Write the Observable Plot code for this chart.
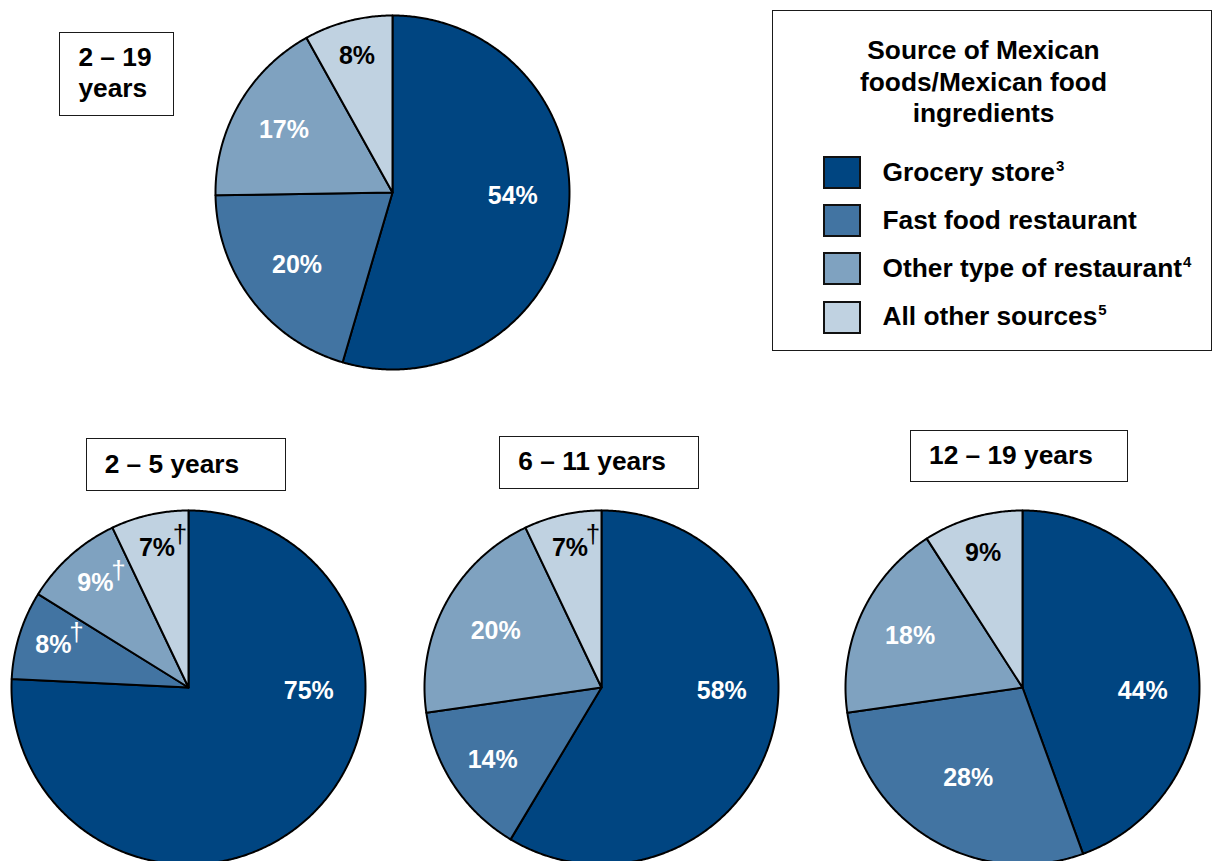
<!DOCTYPE html>
<html>
<head>
<meta charset="utf-8">
<script src="https://cdn.jsdelivr.net/npm/d3@7"></script>
<script src="https://cdn.jsdelivr.net/npm/@observablehq/plot@0.6"></script>
<style>
  html, body { margin: 0; padding: 0; background: #fff; }
  #page {
    position: relative; width: 1213px; height: 861px; overflow: hidden;
    font-family: "Liberation Sans", Arial, Helvetica, sans-serif; font-weight: bold; color: #000;
  }
  .box {
    position: absolute; box-sizing: border-box; border: 1.5px solid #1a1a1a; background: #fff;
    font-size: 26.3px; line-height: 31.3px; padding: 9.4px 0 0 18px; white-space: nowrap;
  }
  .pie { position: absolute; }
  #legend {
    position: absolute; left: 772px; top: 10px; width: 440px; height: 341px;
    box-sizing: border-box; border: 1.5px solid #1a1a1a; background: #fff;
  }
  #legend .title {
    position: absolute; left: 0; top: 24px; width: 421px; text-align: center;
    font-size: 26.3px; line-height: 31.5px;
  }
  #legend .swatch {
    position: absolute; left: 50px; width: 38px; height: 33px;
    box-sizing: border-box; border: 2px solid #111;
  }
  #legend .item {
    position: absolute; left: 109.5px; font-size: 26.3px; line-height: 30px; white-space: nowrap;
  }
  .sup { font-size: 15px; position: relative; top: -10px; margin-left: 1px; }
</style>
</head>
<body>
<div id="page"></div>
<script>
// Where children's Mexican foods / Mexican food ingredients come from, by age group (%)
const sources = ["Grocery store", "Fast food restaurant", "Other type of restaurant", "All other sources"];
const sourceNotes = ["3", "", "4", "5"];
const sourceColors = ["#004581", "#4274a2", "#7fa2c0", "#c0d2e1"];

const ageGroups = ["2 – 19 years", "2 – 5 years", "6 – 11 years", "12 – 19 years"];

const shares2to19 = [54, 20, 17, 8];
const shares2to5 = [75, 8, 9, 7];
const shares6to11 = [58, 14, 20, 7];
const shares12to19 = [44, 28, 18, 9];

// † flags an estimate that does not meet reliability standards
const dagger2to19 = [false, false, false, false];
const dagger2to5 = [false, true, true, true];
const dagger6to11 = [false, false, false, true];
const dagger12to19 = [false, false, false, false];

const legendTitle = ["Source of Mexican", "foods/Mexican food", "ingredients"];

// ---- layout ----
const R = 177;      // pie radius in px
const HALF = 180;   // half the side of each pie's square SVG
const FONT = '"Liberation Sans", Arial, Helvetica, sans-serif';

const panels = [
  {name: ageGroups[0], twoLine: true, shares: shares2to19, daggers: dagger2to19,
   cx: 391.7, cy: 191.5, box: [59.4, 31.7, 115, 84.3]},
  {name: ageGroups[1], shares: shares2to5, daggers: dagger2to5,
   cx: 188, cy: 687, box: [85.7, 438.3, 200, 52.7]},
  {name: ageGroups[2], shares: shares6to11, daggers: dagger6to11,
   cx: 601, cy: 687, box: [499.3, 436, 200, 52.7]},
  {name: ageGroups[3], shares: shares12to19, daggers: dagger12to19,
   cx: 1021.7, cy: 686.7, box: [910, 430, 217.7, 51.7]}
];

// Slices run clockwise from 12 o'clock; x = sin, y = cos in unit-circle coordinates.
function pieChart(shares, daggers) {
  const total = d3.sum(shares);
  const wedges = [];
  const labels = [];
  let acc = 0;
  shares.forEach((v, i) => {
    const a0 = acc / total * 2 * Math.PI;
    acc += v;
    const a1 = acc / total * 2 * Math.PI;
    const n = Math.max(2, Math.ceil((a1 - a0) / (Math.PI / 360)));
    wedges.push({slice: i, source: sources[i], x: 0, y: 0});
    for (let k = 0; k <= n; k++) {
      const a = a0 + (a1 - a0) * k / n;
      wedges.push({slice: i, source: sources[i], x: Math.sin(a), y: Math.cos(a)});
    }
    wedges.push({slice: i, source: sources[i], x: 0, y: 0});

    // the grocery slice is labelled at about 3 o'clock, the rest at their mid-angle,
    // smaller slices a little further out
    const share = v / total;
    const a = i === 0 ? Math.PI * 0.51 : (a0 + a1) / 2;
    const r = i === 0 ? 0.68 : 0.88 - share;
    labels.push({
      x: r * Math.sin(a), y: r * Math.cos(a),
      text: `${v}%`, dagger: daggers[i], dark: i === sources.length - 1
    });
  });

  const S = HALF / R;
  const label = (fill, filter) => Plot.text(labels.filter(filter), {
    x: "x", y: "y", text: "text", fill, fontSize: 25, fontWeight: "bold"
  });
  const dagger = (fill, filter) => Plot.text(labels.filter(filter), {
    x: "x", y: "y", text: () => "†", fill, fontSize: 26, fontWeight: "normal", dx: 23, dy: -13
  });

  return Plot.plot({
    width: 2 * HALF, height: 2 * HALF, margin: 0,
    x: {domain: [-S, S], axis: null},
    y: {domain: [-S, S], axis: null},
    color: {domain: sources, range: sourceColors},
    style: {background: "transparent", overflow: "visible", fontFamily: FONT},
    marks: [
      Plot.line(wedges, {
        x: "x", y: "y", z: "slice", fill: "source",
        stroke: "#000", strokeWidth: 2, strokeLinejoin: "round"
      }),
      label("white", d => !d.dark),
      label("black", d => d.dark),
      dagger("white", d => d.dagger && !d.dark),
      dagger("black", d => d.dagger && d.dark)
    ]
  });
}

const page = document.getElementById("page");

for (const p of panels) {
  const holder = document.createElement("div");
  holder.className = "pie";
  holder.style.left = (p.cx - HALF) + "px";
  holder.style.top = (p.cy - HALF) + "px";
  holder.appendChild(pieChart(p.shares, p.daggers));
  page.appendChild(holder);

  const [left, top, w, h] = p.box;
  const box = document.createElement("div");
  box.className = "box";
  Object.assign(box.style, {left: left + "px", top: top + "px", width: w + "px", height: h + "px"});
  box.innerHTML = p.twoLine ? p.name.replace(" years", "<br>years") : p.name;
  page.appendChild(box);
}

// legend
const legend = document.createElement("div");
legend.id = "legend";
const title = document.createElement("div");
title.className = "title";
title.innerHTML = legendTitle.join("<br>");
legend.appendChild(title);
sources.forEach((s, i) => {
  const sw = document.createElement("div");
  sw.className = "swatch";
  sw.style.top = (145.2 + i * 48.1) + "px";
  sw.style.background = sourceColors[i];
  legend.appendChild(sw);
  const item = document.createElement("div");
  item.className = "item";
  item.style.top = (146.2 + i * 47.9) + "px";
  item.innerHTML = s + (sourceNotes[i] ? `<span class="sup">${sourceNotes[i]}</span>` : "");
  legend.appendChild(item);
});
page.appendChild(legend);
</script>
</body>
</html>
